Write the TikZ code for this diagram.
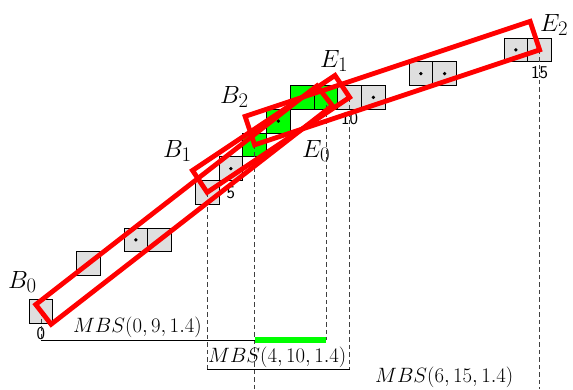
\documentclass[tikz,border=0pt]{standalone}
\usetikzlibrary{calc}
\definecolor{lime2}{RGB}{0,255,0}
\begin{document}
\begin{tikzpicture}[x=1pt,y=-1pt,
  cell/.style={draw=black, line width=0.75pt, minimum size=23.75pt, inner sep=0pt, outer sep=0pt},
  guide/.style={draw=black!75, line width=0.75pt, dash pattern=on 4.5pt off 3pt},
  bar/.style={draw=black, line width=0.8pt},
  hit/.style={draw=lime2, line width=6pt},
  strip/.style={draw=red, line width=4.8pt, line join=miter},
  lab/.style={font=\fontsize{31}{36}\selectfont, anchor=base west, inner sep=0pt},
  mbs/.style={font=\fontsize{20.5}{24}\selectfont, anchor=base west, inner sep=0pt},
  num/.style={font=\fontsize{18}{21}\selectfont\sffamily, inner sep=0pt, anchor=north}]
\useasboundingbox (0,0) rectangle (573,389);
% cells
\foreach \i/\c/\r/\col in {0/0/0/gray!25, 1/2/2/gray!25, 2/4/3/gray!25, 3/5/3/gray!25,
  4/7/5/gray!25, 5/8/6/gray!25, 6/9/7/lime2, 7/10/8/lime2, 8/11/9/lime2, 9/12/9/lime2,
  10/13/9/gray!25, 11/14/9/gray!25, 12/16/10/gray!25, 13/17/10/gray!25,
  14/20/11/gray!25, 15/21/11/gray!25}
  {\node[cell, fill=\col] (c\i) at ({29+23.75*(\c+0.5)},{323-23.75*(\r+0.5)}) {};}
\foreach \i in {0,...,15} {\fill (c\i.center) circle (1.8pt);}
% index labels
\node[num] (n0) at ($(c0.south)+(0,4.5)$) {0};
\node[num] (n5) at ($(c5.south)+(0,5.5)$) {5};
\node[num] (n10) at ($(c10.south)+(0,2.5)$) {10};
\node[num] (n15) at ($(c15.south)+(0,4)$) {15};
% guide coordinates
\coordinate (g0) at (40.875,340);
\coordinate (g9) at (325.875,340);
\coordinate (g6a) at (254.625,340);
\coordinate (g4) at (207.125,369);
\coordinate (g10) at (349.625,369);
\coordinate (g6) at (254.625,389);
\coordinate (g15) at (539.625,389);
\draw[guide] (c0.center) -- (g0);
\draw[guide] (c4.center) -- (g4);
\draw[guide] (c6.center) -- (g6);
\draw[guide] (c9.center) -- (g9);
\draw[guide] (c10.center) -- (g10);
\draw[guide] (c15.center) -- (g15);
% MBS bars
\draw[bar] (g0) -- (g9);
\draw[hit] (g6a) -- (g9);
\draw[bar] (g4) -- (g10);
\node[mbs] (m1) at (73,332.5) {$MBS(0,9,1.4)$};
\node[mbs] (m2) at (208,362.5) {$MBS(4,10,1.4)$};
\node[mbs] (m3) at (375,382) {$MBS(6,15,1.4)$};
% strips
\draw[strip] ($(c0.center)+(-5.12,-6.58)$) -- ($(c0.center)+(10.23,13.15)$)
  -- ($(c9.center)+(6.42,8.24)$) -- ($(c9.center)+(-8.93,-11.50)$) -- cycle;
\draw[strip] ($(c4.center)+(-14.62,-21.93)$) -- (c4.center) -- (c10.center)
  -- ($(c10.center)+(-14.62,-21.93)$) -- cycle;
\draw[strip] ($(c6.center)+(-9.5,-28.5)$) -- (c6.center) -- (c15.center)
  -- ($(c15.center)+(-9.5,-28.5)$) -- cycle;
% end labels
\node[lab] (B0) at (8,288) {$B_0$};
\node[lab] (B1) at (163,157) {$B_1$};
\node[lab] (B2) at (220,103) {$B_2$};
\node[lab] (E0) at (302,157) {$E_0$};
\node[lab] (E1) at (320,67) {$E_1$};
\node[lab] (E2) at (540,31) {$E_2$};
\end{tikzpicture}
\end{document}
